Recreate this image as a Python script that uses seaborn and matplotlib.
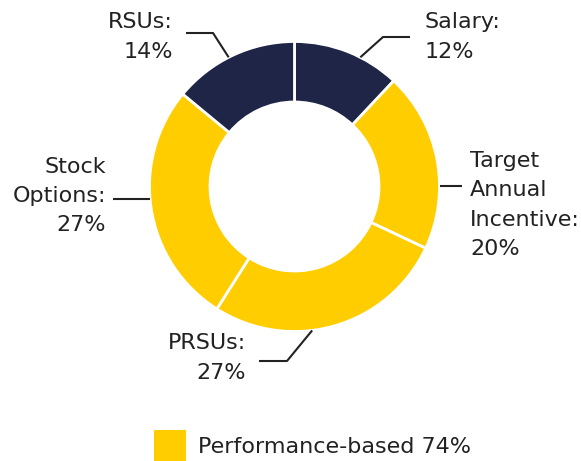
import matplotlib
matplotlib.use("Agg")
import matplotlib.pyplot as plt
import seaborn as sns
from matplotlib.patches import Patch
import numpy as np

categories = ["Salary", "Target\nAnnual\nIncentive", "PRSUs", "Stock\nOptions", "RSUs"]
values = [12, 20, 27, 27, 14]
performance_based = [False, True, True, True, False]
legend_label = "Performance-based"

NAVY = "#1E2547"
YELLOW = "#FFCD00"
TEXT = "#222222"

sns.set_theme(style="white")
plt.rcParams["font.family"] = ["DejaVu Sans"]

W, H = 581, 461
fig = plt.figure(figsize=(W / 100, H / 100), dpi=100)
ax = fig.add_axes([0, 0, 1, 1])

def P(x, y):
    return (x, H - y)

cx, cy = P(294.5, 186.5)
R = 145
colors = [YELLOW if p else NAVY for p in performance_based]
wedges, _ = ax.pie(values, colors=colors, startangle=90, counterclock=False,
                   radius=R, center=(cx, cy), frame=True,
                   wedgeprops=dict(width=60.5, edgecolor="white", linewidth=2))
ax.set_xlim(0, W)
ax.set_ylim(0, H)
ax.set_aspect("equal")
ax.axis("off")

FS = 16
# leader layout: start angle (deg clockwise from top), elbow (None = straight horizontal), end x/y, text pos
layout = [
    dict(ang=27, elbow=(383, 37), end=(410, 37), txt=(425, 37), ha="left"),
    dict(ang=90, elbow=None, end=(462, None), txt=(470, 205), ha="left"),
    dict(ang=173, elbow=(287, 361), end=(259, 361), txt=(246, 358), ha="right"),
    dict(ang=265, elbow=None, end=(113, None), txt=(106, 196), ha="right"),
    dict(ang=333, elbow=(213, 33), end=(186, 33), txt=(173, 37), ha="right"),
]

for cat, val, lay in zip(categories, values, layout):
    a = np.deg2rad(lay["ang"])
    sx, sy = cx + R * np.sin(a), cy + R * np.cos(a)
    if lay["elbow"] is None:
        xs, ys = [sx, lay["end"][0]], [sy, sy]
    else:
        ex, ey = P(*lay["elbow"])
        fx, fy = P(*lay["end"])
        xs, ys = [sx, ex, fx], [sy, ey, fy]
    ax.plot(xs, ys, color=TEXT, lw=1.5, solid_capstyle="butt")
    tx, ty = P(*lay["txt"])
    ax.text(tx, ty, f"{cat}:\n{val}%", ha=lay["ha"], va="center", fontsize=FS,
            color=TEXT, linespacing=1.58, multialignment=lay["ha"])

perf_total = sum(v for v, p in zip(values, performance_based) if p)
handles = [Patch(facecolor=YELLOW, edgecolor="none", label=f"{legend_label} {perf_total}%")]
leg = ax.legend(handles=handles, loc="center left", bbox_to_anchor=(154 / W, 1 - 446 / H),
                frameon=False, fontsize=FS, handlelength=1.45, handleheight=1.9,
                handletextpad=0.55, borderaxespad=0, borderpad=0)
for t in leg.get_texts():
    t.set_color(TEXT)

fig.savefig("out.png", dpi=100)
